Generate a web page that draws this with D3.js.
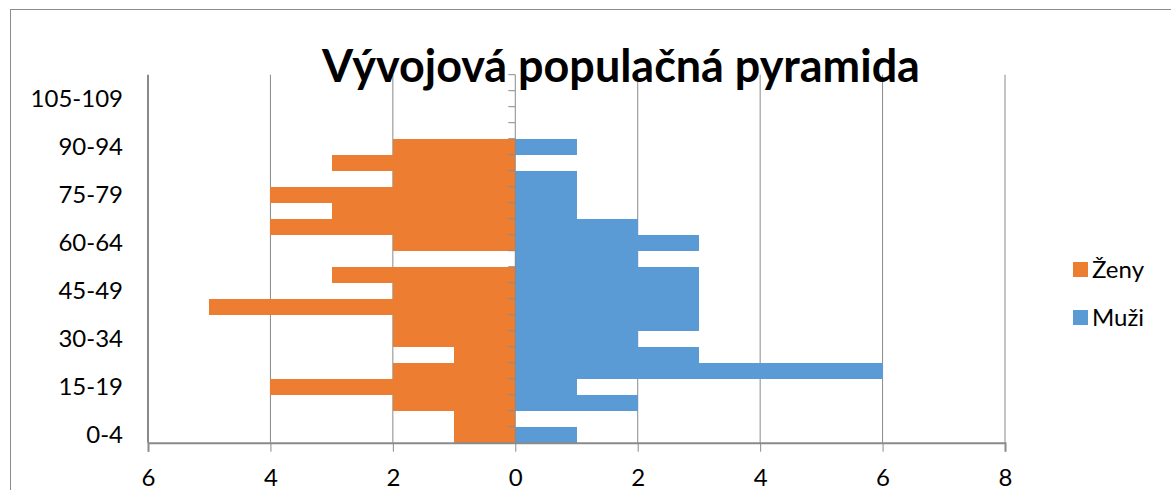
<!DOCTYPE html>
<html>
<head>
<meta charset="utf-8">
<script src="https://cdn.jsdelivr.net/npm/d3@7"></script>
<style>
  body { margin: 0; background: #fff; }
  svg { display: block; }
  .tickText { font-family: Lato, "Open Sans", sans-serif; font-size: 24px; fill: #000; }
</style>
</head>
<body>
<div id="chart"></div>
<script>
var svgWidth = 1171;
var svgHeight = 490;

var margin = { top: 74.7, right: 166, bottom: 47.3, left: 148 };
var width = svgWidth - margin.left - margin.right;
var height = svgHeight - margin.top - margin.bottom;

// Data
var ageGroups = ["0-4", "5-9", "10-14", "15-19", "20-24", "25-29", "30-34", "35-39",
  "40-44", "45-49", "50-54", "55-59", "60-64", "65-69", "70-74", "75-79", "80-84",
  "85-89", "90-94", "95-99", "100-104", "105-109", "110+"];
var muzi = [1, 0, 2, 1, 6, 3, 2, 3, 3, 3, 3, 2, 3, 2, 1, 1, 1, 0, 1, 0, 0, 0, 0];
var zeny = [1, 1, 2, 4, 2, 1, 2, 2, 5, 2, 3, 0, 2, 4, 3, 4, 2, 3, 2, 0, 0, 0, 0];
var xTicks = [-6, -4, -2, 0, 2, 4, 6, 8];
var seriesNames = ["Ženy", "Muži"];
var colors = ["#ED7D31", "#5B9BD5"];

var svg = d3.select("#chart")
  .append("svg")
  .attr("width", svgWidth)
  .attr("height", svgHeight);

// chart border
svg.append("rect")
  .attr("x", 10.5).attr("y", 9.5)
  .attr("width", 1300).attr("height", 600)
  .attr("fill", "none")
  .attr("stroke", "#8c8c8c");

var chartGroup = svg.append("g")
  .attr("transform", `translate(${margin.left}, ${margin.top})`);

var xScale = d3.scaleLinear().domain([-6, 8]).range([0, width]);
var yScale = d3.scaleBand().domain(ageGroups).range([height, 0]);

// vertical gridlines
chartGroup.selectAll(".grid")
  .data(xTicks.filter(d => d !== 0))
  .enter()
  .append("line")
  .attr("x1", d => xScale(d)).attr("x2", d => xScale(d))
  .attr("y1", 0).attr("y2", height)
  .attr("stroke", "#8a8a8a")
  .attr("stroke-width", d => d === -6 ? 2 : 1);

// bars
var rows = ageGroups.map((g, i) => ({ group: g, muzi: muzi[i], zeny: zeny[i] }));

chartGroup.selectAll(".zeny")
  .data(rows)
  .enter()
  .append("rect")
  .attr("x", d => xScale(-d.zeny))
  .attr("y", d => yScale(d.group))
  .attr("width", d => xScale(0) - xScale(-d.zeny))
  .attr("height", yScale.bandwidth())
  .attr("shape-rendering", "crispEdges")
  .attr("fill", colors[0]);

chartGroup.selectAll(".muzi")
  .data(rows)
  .enter()
  .append("rect")
  .attr("x", xScale(0))
  .attr("y", d => yScale(d.group))
  .attr("width", d => xScale(d.muzi) - xScale(0))
  .attr("height", yScale.bandwidth())
  .attr("shape-rendering", "crispEdges")
  .attr("fill", colors[1]);

// vertical category axis at zero with ticks between categories
var x0 = xScale(0);
chartGroup.append("line")
  .attr("x1", x0).attr("x2", x0)
  .attr("y1", 0).attr("y2", height)
  .attr("stroke", "#8a8a8a");
chartGroup.selectAll(".ytick")
  .data(ageGroups)
  .enter()
  .append("line")
  .attr("x1", x0 - 7).attr("x2", x0)
  .attr("y1", d => yScale(d)).attr("y2", d => yScale(d))
  .attr("stroke", "#8a8a8a");

// category labels (every third), placed at the left
chartGroup.selectAll(".ylabel")
  .data(ageGroups.filter((g, i) => i % 3 === 0))
  .enter()
  .append("text")
  .attr("class", "tickText")
  .attr("x", -25)
  .attr("y", d => yScale(d) + yScale.bandwidth() / 2)
  .attr("dy", "0.36em")
  .attr("text-anchor", "end")
  .text(d => d);

// bottom value axis
var bottomAxis = d3.axisBottom(xScale)
  .tickValues(xTicks)
  .tickSize(9)
  .tickPadding(17)
  .tickFormat(d => Math.abs(d));

var xAxisG = chartGroup.append("g")
  .attr("transform", `translate(0, ${height})`)
  .call(bottomAxis);
xAxisG.select(".domain").attr("stroke", "#8a8a8a").attr("stroke-width", 2);
xAxisG.selectAll(".tick line").attr("stroke", "#8a8a8a");
xAxisG.selectAll("text")
  .attr("class", "tickText")
  .style("font-family", "Lato, 'Open Sans', sans-serif")
  .style("font-size", "24px")
  .attr("fill", "#000");

// title
var title = svg.append("text")
  .attr("x", 621)
  .attr("y", 82)
  .attr("text-anchor", "middle")
  .style("font-family", "Lato, 'Open Sans', sans-serif")
  .style("font-weight", "bold")
  .style("font-size", "40px")
  .attr("fill", "#000")
  .text("Vývojová populačná pyramida");
var tLen = title.node().getComputedTextLength();
title.style("font-size", (40 * 598 / tLen) + "px");

// legend
var legend = svg.selectAll(".legend")
  .data(seriesNames)
  .enter()
  .append("g")
  .attr("transform", (d, i) => `translate(1073, ${262 + i * 48})`);
legend.append("rect")
  .attr("width", 15).attr("height", 15)
  .attr("fill", (d, i) => colors[i]);
legend.append("text")
  .attr("class", "tickText")
  .attr("x", 19)
  .attr("y", 16)
  .text(d => d);
</script>
</body>
</html>
